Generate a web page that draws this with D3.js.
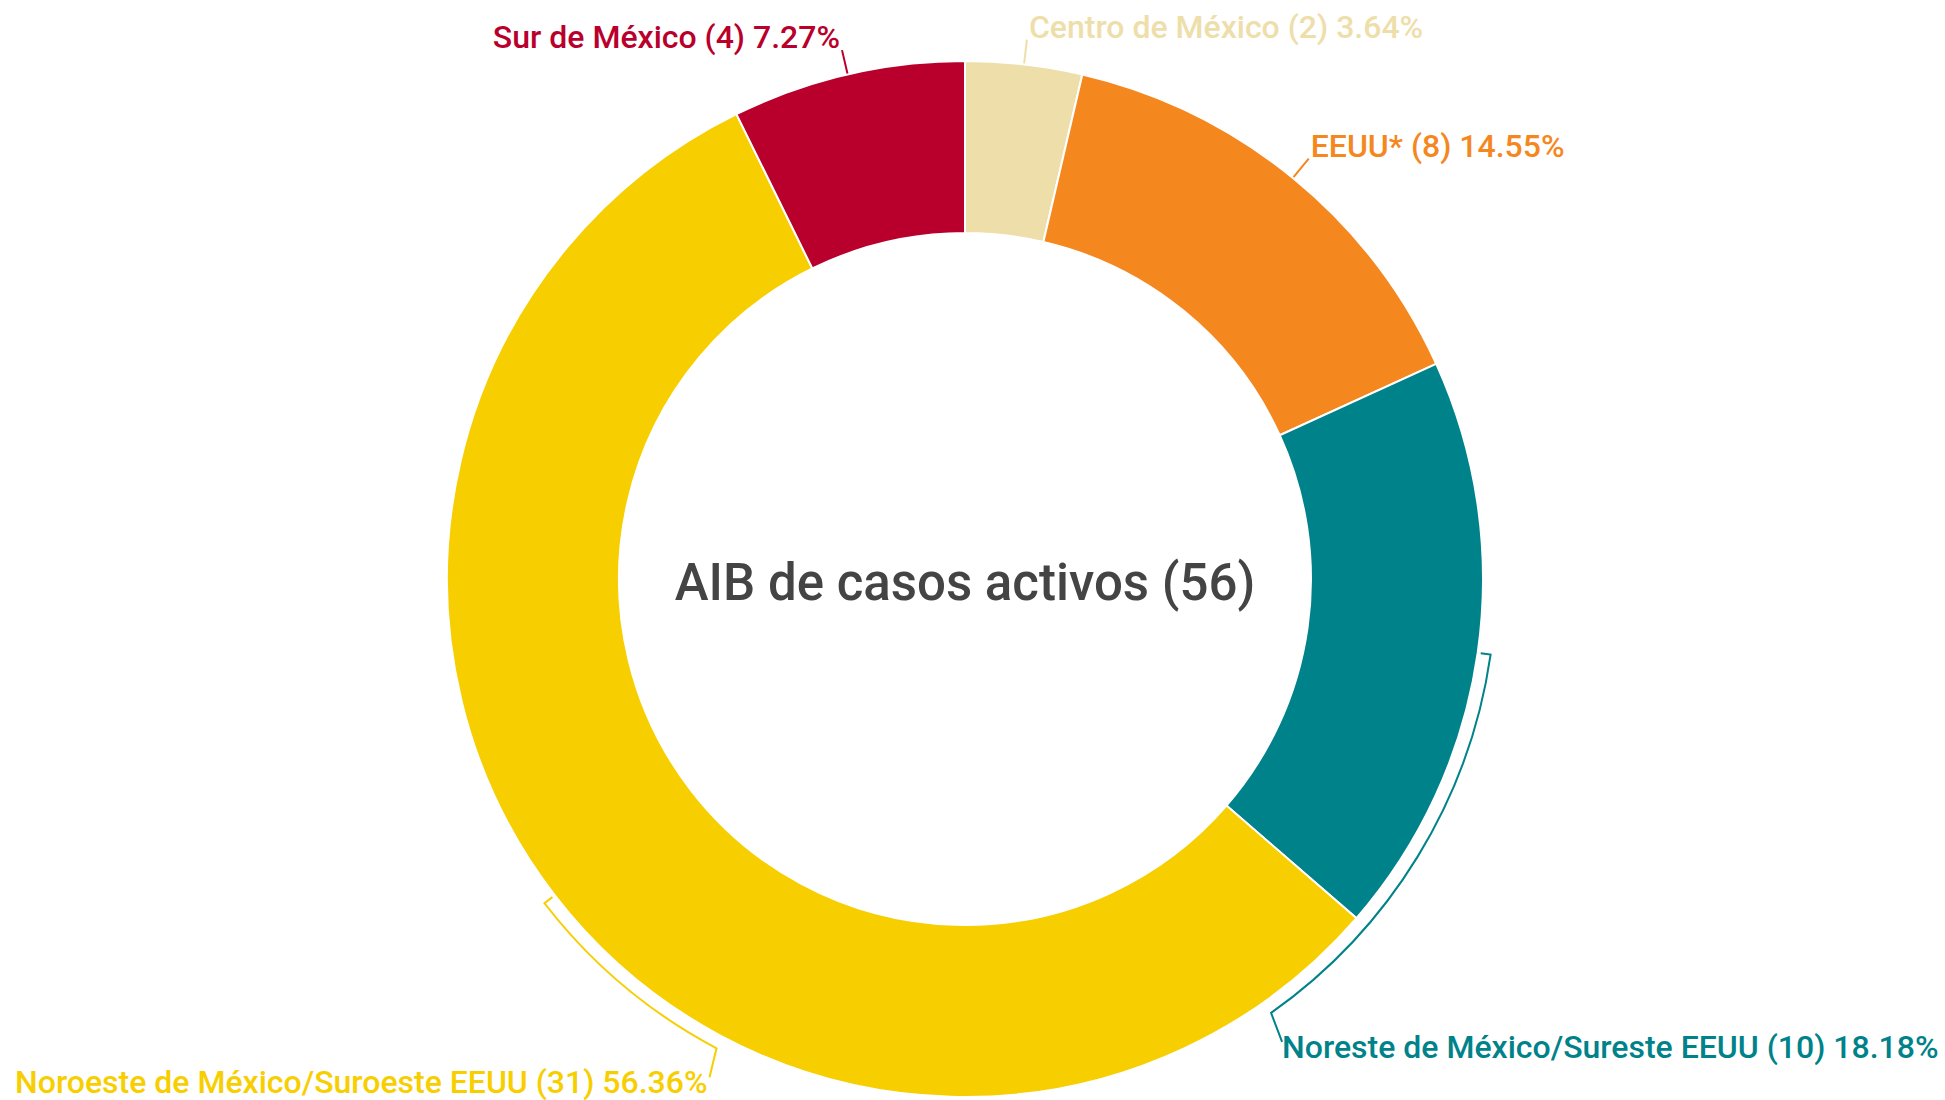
<!DOCTYPE html>
<html>
<head>
<meta charset="utf-8">
<script src="https://cdn.jsdelivr.net/npm/d3@7"></script>
<style>
  body { margin: 0; background: #fff; }
  text { font-family: Roboto, "Noto Sans", sans-serif; }
</style>
</head>
<body>
<div id="figure_area"></div>
<script>
// ----- ----- ----- ----- ----- ----- ----- ----- -----
// DATA
const regions = [
    "Centro de México",
    "EEUU*",
    "Noreste de México/Sureste EEUU",
    "Noroeste de México/Suroeste EEUU",
    "Sur de México"
];
const cases = [2, 8, 10, 31, 4];
const sliceColors = ["#eedeaa", "#f5871f", "#00828a", "#f7ce00", "#b9002c"];
const centerTitle = "AIB de casos activos (56)";

// ----- ----- ----- ----- ----- ----- ----- ----- -----
// FIGURE
const figure_size = { width: 1945, height: 1100 };
const center = { x: 965, y: 579 };
const radius = { inner: 346, outer: 518, tick: 531, leader: 543 };

// how each label is hooked to its slice
// "radial": short straight line out of the slice middle
// "bracket": line following the ring down to an angle, then to the label
const leaderStyle = [
    { kind: "radial", anchor: "start" },
    { kind: "radial", anchor: "start" },
    { kind: "bracket", anchor: "start", toAngle: 144.8, dx: 11, dy: 29 },
    { kind: "bracket", anchor: "end", toAngle: 207.9, dx: -7, dy: 29 },
    { kind: "radial", anchor: "end" }
];

var pctFormat = d3.format(".2f");
var total = d3.sum(cases);

var svg = d3.select("#figure_area")
    .append("svg")
    .attr("width", figure_size.width)
    .attr("height", figure_size.height);

var g = svg.append("g")
    .attr("transform", "translate(" + center.x + "," + center.y + ")");

var pie = d3.pie().sort(null).value(function (d) { return d; });
var arcs = pie(cases);

var arc = d3.arc()
    .innerRadius(radius.inner)
    .outerRadius(radius.outer);

// slices
g.selectAll("path.slice")
    .data(arcs)
    .enter()
    .append("path")
    .attr("class", "slice")
    .attr("d", arc)
    .attr("fill", function (d, i) { return sliceColors[i]; })
    .attr("stroke", "#fff")
    .attr("stroke-width", 2);

// point on circle, angle in radians measured from 12 o'clock clockwise
function polar(a, r) {
    return [r * Math.sin(a), -r * Math.cos(a)];
}

// leaders and labels
arcs.forEach(function (d, i) {
    var style = leaderStyle[i];
    var mid = (d.startAngle + d.endAngle) / 2;
    var color = sliceColors[i];
    var label = regions[i] + " (" + cases[i] + ") " + pctFormat(cases[i] / total * 100) + "%";
    var p = d3.path();
    var end, tx, ty;

    if (style.kind === "radial") {
        var a = polar(mid, radius.outer + 1);
        end = polar(mid, radius.leader);
        p.moveTo(a[0], a[1]);
        p.lineTo(end[0], end[1]);
        tx = end[0] + (style.anchor === "start" ? 2 : -2);
        ty = end[1] - 2;
    } else {
        var to = style.toAngle * Math.PI / 180;
        var s = polar(mid, radius.outer + 3);
        var t = polar(mid, radius.tick);
        p.moveTo(s[0], s[1]);
        p.lineTo(t[0], t[1]);
        p.arc(0, 0, radius.tick, mid - Math.PI / 2, to - Math.PI / 2, to < mid);
        var b = polar(to, radius.tick);
        end = [b[0] + style.dx, b[1] + style.dy];
        p.lineTo(end[0], end[1]);
        tx = end[0] + (style.anchor === "start" ? 0 : -2);
        ty = end[1] + 16;
    }

    g.append("path")
        .attr("d", p.toString())
        .attr("fill", "none")
        .attr("stroke", color)
        .attr("stroke-width", 2);

    g.append("text")
        .attr("x", tx)
        .attr("y", ty)
        .attr("text-anchor", style.anchor)
        .attr("fill", color)
        .attr("font-size", 32)
        .attr("font-weight", 500)
        .text(label);
});

// center title
g.append("text")
    .attr("x", 0)
    .attr("y", 21)
    .attr("text-anchor", "middle")
    .attr("fill", "#444")
    .attr("font-size", 51)
    .attr("font-weight", 500)
    .text(centerTitle);
</script>
</body>
</html>
